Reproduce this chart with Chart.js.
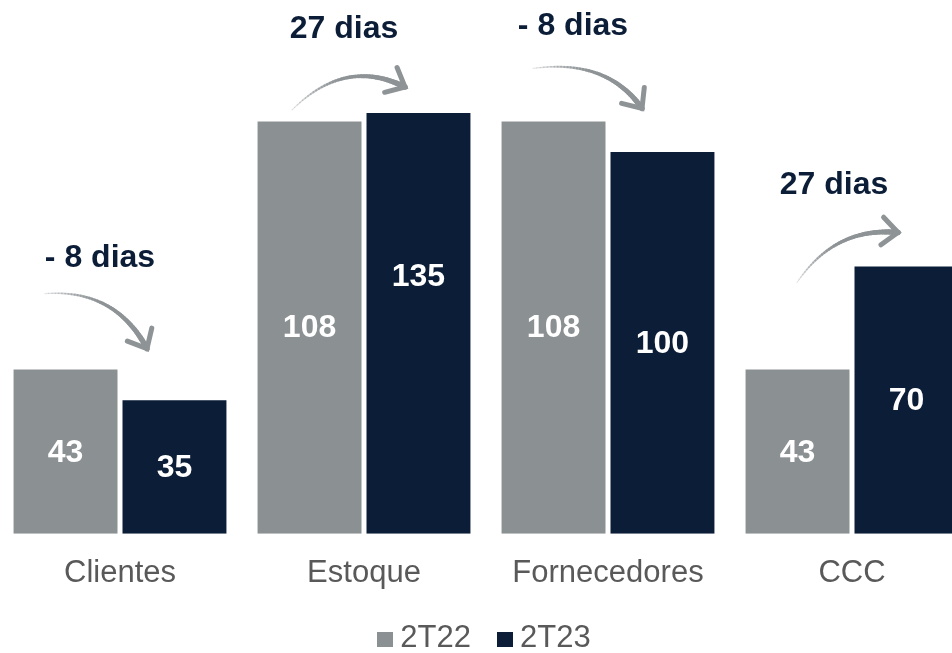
<!DOCTYPE html>
<html>
<head>
<meta charset="utf-8">
<script src="https://cdn.jsdelivr.net/npm/chart.js@4.4.1/dist/chart.umd.min.js"></script>
<style>
  html, body { margin: 0; padding: 0; background: #fff; overflow: hidden; }
  body { width: 952px; height: 653px; position: relative; font-family: "Liberation Sans", Arial, sans-serif; }
  #wrap { position: absolute; left: -2px; top: 0; width: 976px; height: 653px; }
  #legenda { position: absolute; left: 8px; top: 619px; width: 952px; text-align: center;
             font-size: 31px; line-height: 36px; color: #595959; }
  #legenda span.item { margin: 0 13px; }
  #legenda span.box { display: inline-block; width: 16px; height: 15px; margin-right: 7px; }
</style>
</head>
<body>
<div id="wrap"><canvas id="myChart" width="976" height="653"></canvas></div>
<div id="legenda"><span class="item"><span class="box" style="background:#8b9093"></span>2T22</span><span class="item"><span class="box" style="background:#0b1d37"></span>2T23</span></div>
<script>
// categorias (eixo x)
const categories = ['Clientes', 'Estoque', 'Fornecedores', 'CCC'];
// dias por trimestre
const values2T22 = [43, 108, 108, 43];
const values2T23 = [35, 135, 100, 70];
// variacao entre os trimestres
const variacoes = ['- 8 dias', '27 dias', '- 8 dias', '27 dias'];

const CINZA = '#8b9093';
const AZUL = '#0b1d37';

// posicao das notas e setas, relativa ao centro da categoria e ao topo da barra mais alta
const notas = [
  { tx: -20, ty: -111, start: [-75, -76], ctrl: [-5, -81], tip: [27, -21] },
  { tx: -20, ty: -84, start: [-72, -3], ctrl: [-19, -56], tip: [41, -26] },
  { tx: -35, ty: -95, start: [-75, -53], ctrl: [-1, -63], tip: [34, -13] },
  { tx: -18, ty: -81, start: [-55, 16], ctrl: [-17, -40], tip: [46, -34] }
];

function seta(ctx, p0, p1, p2) {
  ctx.save();
  ctx.strokeStyle = '#8e9396';
  ctx.lineCap = 'round';
  const n = 40;
  let prev = p0;
  for (let i = 1; i <= n; i++) {
    const t = i / n;
    const x = (1 - t) * (1 - t) * p0[0] + 2 * (1 - t) * t * p1[0] + t * t * p2[0];
    const y = (1 - t) * (1 - t) * p0[1] + 2 * (1 - t) * t * p1[1] + t * t * p2[1];
    ctx.globalAlpha = Math.min(1, 0.2 + t * 1.6);
    ctx.lineWidth = 1 + 4.5 * t;
    ctx.beginPath();
    ctx.moveTo(prev[0], prev[1]);
    ctx.lineTo(x, y);
    ctx.stroke();
    prev = [x, y];
  }
  ctx.globalAlpha = 1;
  ctx.lineWidth = 5;
  const ang = Math.atan2(p2[1] - p1[1], p2[0] - p1[0]);
  ctx.beginPath();
  ctx.moveTo(p2[0] + 21 * Math.cos(ang + Math.PI - 0.72), p2[1] + 21 * Math.sin(ang + Math.PI - 0.72));
  ctx.lineTo(p2[0], p2[1]);
  ctx.lineTo(p2[0] + 21 * Math.cos(ang + Math.PI + 0.72), p2[1] + 21 * Math.sin(ang + Math.PI + 0.72));
  ctx.stroke();
  ctx.restore();
}

const rotulos = {
  id: 'rotulos',
  afterDatasetsDraw(chart) {
    const ctx = chart.ctx;
    const y = chart.scales.y;
    const area = chart.chartArea;
    const base = y.getPixelForValue(0);
    ctx.save();
    // valores dentro das barras
    ctx.font = 'bold 32px "Liberation Sans", Arial, sans-serif';
    ctx.fillStyle = '#ffffff';
    ctx.textAlign = 'center';
    ctx.textBaseline = 'middle';
    chart.data.datasets.forEach((ds, d) => {
      chart.getDatasetMeta(d).data.forEach((bar, i) => {
        const yv = y.getPixelForValue(ds.data[i]);
        ctx.fillText(String(ds.data[i]), bar.x, (yv + base) / 2 + 1);
      });
    });
    // variacoes e setas
    ctx.fillStyle = AZUL;
    categories.forEach((c, i) => {
      const xc = chart.scales.x.getPixelForValue(i);
      const topo = Math.max(area.top, Math.min(y.getPixelForValue(values2T22[i]), y.getPixelForValue(values2T23[i])));
      const n = notas[i];
      ctx.fillText(variacoes[i], xc + n.tx, topo + n.ty);
      seta(ctx,
        [xc + n.start[0], topo + n.start[1]],
        [xc + n.ctrl[0], topo + n.ctrl[1]],
        [xc + n.tip[0], topo + n.tip[1]]);
    });
    ctx.restore();
  }
};

new Chart('myChart', {
  type: 'bar',
  data: {
    labels: categories,
    datasets: [
      { label: '2T22', data: values2T22, backgroundColor: CINZA, clip: 0 },
      { label: '2T23', data: values2T23, backgroundColor: AZUL, clip: 0 }
    ]
  },
  options: {
    responsive: false,
    animation: false,
    layout: { padding: { top: 113, bottom: 48, left: 0, right: 0 } },
    datasets: { bar: { categoryPercentage: 0.893, barPercentage: 0.954 } },
    plugins: { legend: { display: false }, tooltip: { enabled: false } },
    scales: {
      x: {
        grid: { display: false },
        border: { display: false },
        ticks: { color: '#595959', padding: 13, font: { size: 31, family: '"Liberation Sans", Arial, sans-serif' } }
      },
      y: { display: false, min: 0, max: 110.2 }
    }
  },
  plugins: [rotulos]
});
</script>
</body>
</html>
